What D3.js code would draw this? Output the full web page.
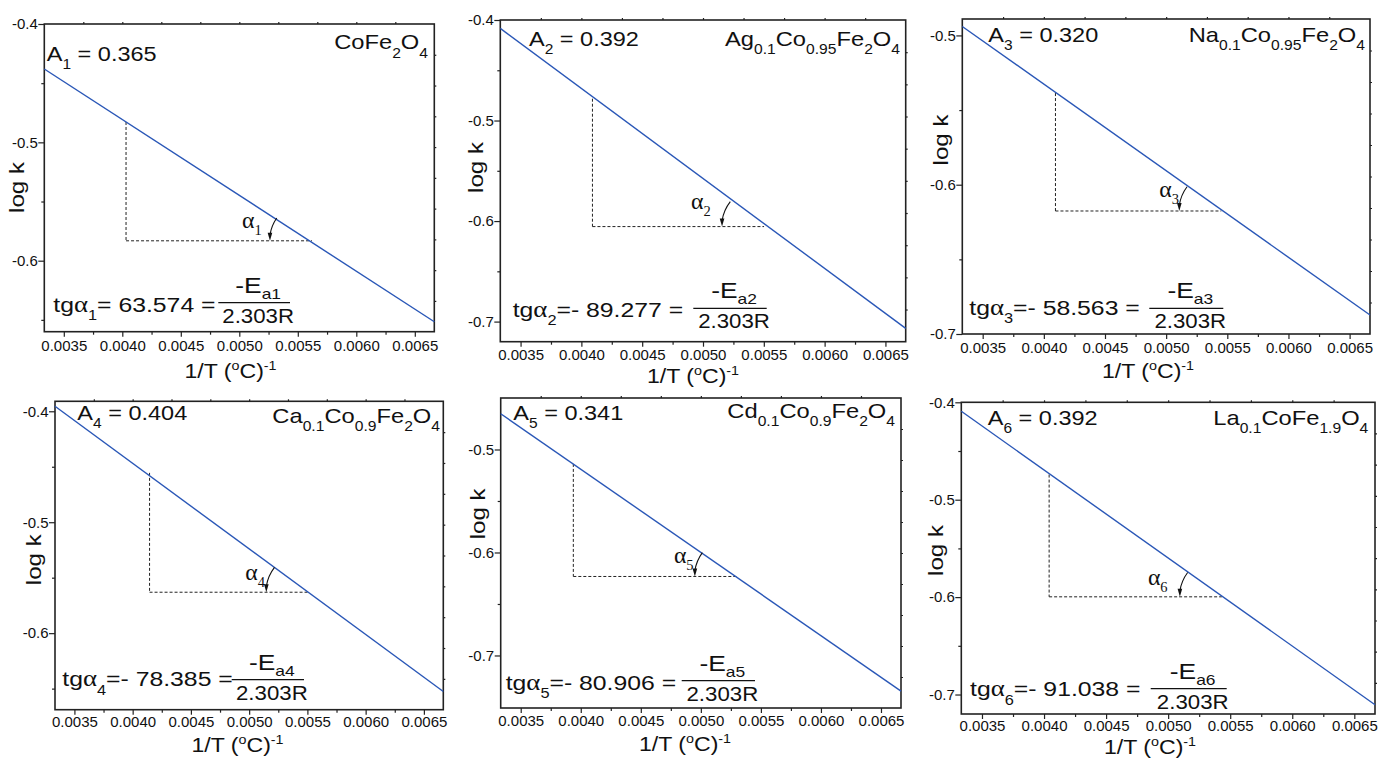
<!DOCTYPE html>
<html>
<head>
<meta charset="utf-8">
<style>
  body { margin: 0; background: #fff; }
  svg { display: block; font-family: "Liberation Sans", Arial, sans-serif; }
  text { white-space: pre; fill: #111; }
  .axis text { font-size: 15px; }
  .axis line { stroke: #222; stroke-width: 1.2px; }
  .axis path { display: none; }
  .frame { fill: none; stroke: #222; stroke-width: 1.6px; }
  .fit { stroke: #2a57b7; stroke-width: 1.4px; fill: none; }
  .guide { stroke: #222; stroke-width: 1px; stroke-dasharray: 3,2; }
  .arc { stroke: #111; stroke-width: 1.1px; fill: none; }
</style>
</head>
<body>
<div id="chart"></div>
<script src="https://cdn.jsdelivr.net/npm/d3@7"></script>
<script>
// values
const samples = ["CoFe_{2}O_{4}", "Ag_{0.1}Co_{0.95}Fe_{2}O_{4}", "Na_{0.1}Co_{0.95}Fe_{2}O_{4}",
                 "Ca_{0.1}Co_{0.9}Fe_{2}O_{4}", "Cd_{0.1}Co_{0.9}Fe_{2}O_{4}", "La_{0.1}CoFe_{1.9}O_{4}"];
const aValues = [0.365, 0.392, 0.320, 0.404, 0.341, 0.392];
const tgValues = [63.574, -89.277, -58.563, -78.385, -80.906, -91.038];

const xRange = [1 / 300, 1 / 150];
const yRanges = [[-0.66, -0.4], [-0.72, -0.4], [-0.7, -0.489], [-0.669, -0.391], [-0.751, -0.45], [-0.72, -0.4]];

// fitted line: log k at the two ends of the x range
const fitStart = [-0.438, -0.4083, -0.494, -0.3955, -0.4653, -0.4092];
const fitEnd = [-0.6516, -0.7068, -0.6873, -0.6526, -0.7346, -0.7105];

// dashed slope triangle corners
const guideX = [[0.004032, 0.005621], [0.004091, 0.005502], [0.004095, 0.005451],
                [0.004145, 0.005508], [0.003938, 0.0053], [0.004041, 0.005433]];
const guideY = [[-0.4828, -0.5832], [-0.4783, -0.6055], [-0.5386, -0.6176],
                [-0.4555, -0.5631], [-0.5140, -0.6233], [-0.4742, -0.5997]];

const xTickValues = [0.0035, 0.004, 0.0045, 0.005, 0.0055, 0.006, 0.0065];
const xMinorValues = [0.00375, 0.00425, 0.00475, 0.00525, 0.00575, 0.00625];
const yTickValues = [[-0.6, -0.5, -0.4], [-0.7, -0.6, -0.5, -0.4], [-0.7, -0.6, -0.5],
                     [-0.6, -0.5, -0.4], [-0.7, -0.6, -0.5], [-0.7, -0.6, -0.5, -0.4]];
const yMinorValues = [[-0.65, -0.55, -0.45], [-0.65, -0.55, -0.45], [-0.65, -0.55],
                      [-0.65, -0.55, -0.45], [-0.65, -0.55], [-0.65, -0.55, -0.45]];

// page layout (pixels) for each panel
const layout = [
  { box: [44.3, 24, 434.3, 331.7], ylab: [24, 187.5], xlab: [230.5, 378], aLab: [46.7, 61], fLab: [428, 49.3],
    eq: [53.3, 311.7], bar: [218.3, 290, 302.7], alpha: [-70, -12.4], tickPad: 4 },
  { box: [500.3, 20, 905.7, 341.7], ylab: [482.5, 167.5], xlab: [693, 383], aLab: [529, 45.7], fLab: [900, 45.7],
    eq: [512.7, 316.7], bar: [693.3, 766.7, 308.3], alpha: [-73, -18], tickPad: 2.5 },
  { box: [962.3, 19, 1370, 334], ylab: [948, 140], xlab: [1148, 377.5], aLab: [988.3, 41.7], fLab: [1365, 41.7],
    eq: [969.3, 315], bar: [1149.3, 1223.3, 308.3], alpha: [-62, -14], tickPad: 3 },
  { box: [55, 401.3, 443.3, 709.7], ylab: [41, 559.7], xlab: [237.5, 751.5], aLab: [77.3, 419.7], fLab: [440, 423],
    eq: [62.3, 686.3], bar: [231.7, 304, 679.7], alpha: [-63, -12.6], tickPad: 2 },
  { box: [500.7, 398, 901, 708], ylab: [485, 513.8], xlab: [685, 751], aLab: [513.3, 419.7], fLab: [895, 418],
    eq: [505.7, 689.7], bar: [681.7, 755, 680.7], alpha: [-63, -13.7], tickPad: 2.5 },
  { box: [961.3, 402.3, 1375, 714], ylab: [943, 550.5], xlab: [1150, 753.5], aLab: [987.7, 424.7], fLab: [1368.3, 424.7],
    eq: [970, 696.3], bar: [1150.7, 1226.7, 688.7], alpha: [-74, -12.3], tickPad: 1 }
];

const svg = d3.select("#chart").append("svg")
  .attr("width", 1390)
  .attr("height", 758);

// "A_{1} = 0.3" -> segments; α gets a serif face
function parseRich(str) {
  let segs = [], re = /([_^])\{([^}]*)\}|α|[^_^α]+/g, m;
  while ((m = re.exec(str))) {
    if (m[1]) segs.push({ t: m[2], k: m[1] === "_" ? "sub" : "sup" });
    else if (m[0] === "α") segs.push({ t: "α", k: "greek" });
    else segs.push({ t: m[0], k: "base" });
  }
  return segs;
}

function richText(g, str, x, y, o) {
  let size = o.size || 21, sx = o.sx || 1.12;
  let subDy = o.subDy || size * 0.4, supDy = o.supDy || -size * 0.38;
  let small = o.small || 0.66;
  let t = g.append("text")
    .attr("text-anchor", o.anchor || "start")
    .attr("transform", `translate(${x},${y})` + (o.rotate ? ` rotate(${o.rotate})` : "") + ` scale(${sx},1)`)
    .style("font-size", size + "px");
  if (o.serif) t.style("font-family", '"Liberation Serif", serif');
  let shift = 0;
  parseRich(str).forEach(function (s) {
    let target = s.k === "sub" ? subDy : s.k === "sup" ? supDy : 0;
    let ts = t.append("tspan").attr("dy", target - shift).text(s.t);
    shift = target;
    if (s.k === "sub" || s.k === "sup") ts.style("font-size", (size * small) + "px");
    if (s.k === "greek") ts.style("font-family", '"Liberation Serif", serif').style("font-size", (size * 1.08) + "px");
  });
  return t;
}

samples.forEach(function (name, i) {
  let L = layout[i];
  let [x0, y0, x1, y1] = L.box;
  let g = svg.append("g");

  let x = d3.scaleLinear().domain(xRange).range([x0, x1]);
  let y = d3.scaleLinear().domain(yRanges[i]).range([y1, y0]);

  // axes: labelled majors, short minors, tiny ticks on top / right
  g.append("g").attr("class", "axis")
    .attr("transform", `translate(0,${y1})`)
    .call(d3.axisBottom(x).tickValues(xTickValues).tickSize(5).tickPadding(L.tickPad)
      .tickFormat(d => d.toFixed(4)));
  g.append("g").attr("class", "axis")
    .attr("transform", `translate(0,${y1})`)
    .call(d3.axisBottom(x).tickValues(xMinorValues).tickSize(3).tickFormat(""));
  g.append("g").attr("class", "axis")
    .attr("transform", `translate(${x0},0)`)
    .call(d3.axisLeft(y).tickValues(yTickValues[i]).tickSize(6).tickPadding(0.5)
      .tickFormat(d => d.toFixed(1)));
  g.append("g").attr("class", "axis")
    .attr("transform", `translate(${x0},0)`)
    .call(d3.axisLeft(y).tickValues(yMinorValues[i]).tickSize(3).tickFormat(""));

  let xr = x.domain(), yr = y.domain();
  g.append("g").attr("class", "axis")
    .attr("transform", `translate(0,${y0})`)
    .call(d3.axisTop(x).tickValues(d3.range(1, 10).map(k => xr[0] + k * (xr[1] - xr[0]) / 10))
      .tickSize(2).tickFormat(""));
  g.append("g").attr("class", "axis")
    .attr("transform", `translate(${x1},0)`)
    .call(d3.axisRight(y).tickValues(d3.range(1, 10).map(k => yr[0] + k * (yr[1] - yr[0]) / 10))
      .tickSize(2).tickFormat(""));

  g.append("rect").attr("class", "frame")
    .attr("x", x0).attr("y", y0)
    .attr("width", x1 - x0).attr("height", y1 - y0);

  // dashed triangle
  let gx = guideX[i], gy = guideY[i];
  g.append("line").attr("class", "guide")
    .attr("x1", x(gx[0])).attr("y1", y(gy[0]))
    .attr("x2", x(gx[0])).attr("y2", y(gy[1]));
  g.append("line").attr("class", "guide")
    .attr("x1", x(gx[0])).attr("y1", y(gy[1]))
    .attr("x2", x(gx[1])).attr("y2", y(gy[1]));

  // fitted line
  g.append("line").attr("class", "fit")
    .attr("x1", x(xRange[0])).attr("y1", y(fitStart[i]))
    .attr("x2", x(xRange[1])).attr("y2", y(fitEnd[i]));

  // angle arc with arrow
  let cx = x(gx[1]), cy = y(gy[1]), r = 42;
  let ang = Math.atan2(y(fitStart[i]) - y(fitEnd[i]), x(xRange[0]) - x(xRange[1]));
  let sxp = cx + r * Math.cos(ang), syp = cy + r * Math.sin(ang);
  let ex = cx - r, ey = cy - 1;
  g.append("path").attr("class", "arc")
    .attr("d", `M${sxp},${syp} A${r},${r} 0 0 0 ${ex},${ey - 5}`);
  g.append("path")
    .attr("d", `M${ex - 2.3},${ey - 7} L${ex + 2.3},${ey - 7} L${ex},${ey + 1} Z`)
    .attr("fill", "#111");
  richText(g, "α_{" + (i + 1) + "}", cx + L.alpha[0], cy + L.alpha[1], { size: 22, sx: 1, serif: true, subDy: 7 });

  // labels
  richText(g, "log k", L.ylab[0], L.ylab[1], { anchor: "middle", rotate: -90, sx: 1.15 });
  richText(g, "1/T (^{o}C)^{-1}", L.xlab[0], L.xlab[1], { anchor: "middle", sx: 1.1, supDy: -8, small: 0.62 });
  richText(g, "A_{" + (i + 1) + "} = " + aValues[i].toFixed(3), L.aLab[0], L.aLab[1], {});
  richText(g, name, L.fLab[0], L.fLab[1], { anchor: "end", sx: 1.13 });

  let v = tgValues[i];
  let vs = v < 0 ? "=- " + Math.abs(v).toFixed(3) : "= " + v.toFixed(3);
  richText(g, "tgα_{" + (i + 1) + "}" + vs + " =", L.eq[0], L.eq[1], { sx: 1.18 });
  let [b0, b1, by] = L.bar;
  g.append("line")
    .attr("x1", b0).attr("x2", b1).attr("y1", by).attr("y2", by)
    .attr("stroke", "#111").attr("stroke-width", 1.2);
  let bc = (b0 + b1) / 2 + 4;
  richText(g, "-E_{a" + (i + 1) + "}", bc, by - 10, { anchor: "middle", size: 22, sx: 1.2, subDy: 6 });
  richText(g, "2.303R", bc, by + 20, { anchor: "middle", sx: 1.06 });
});
</script>
</body>
</html>
